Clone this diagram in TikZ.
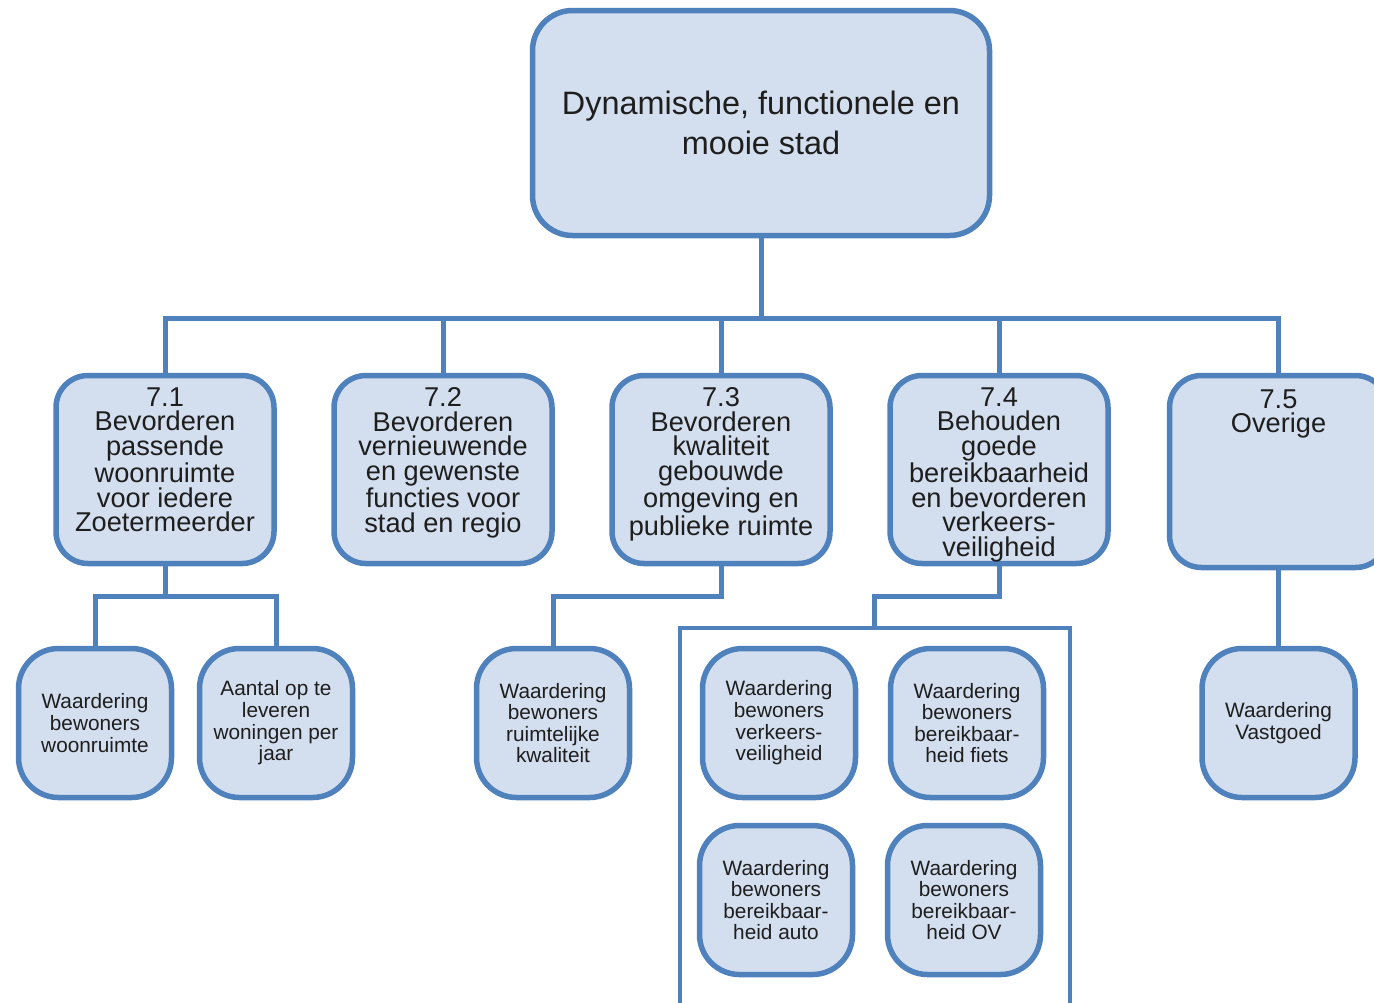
\documentclass[tikz,border=0pt]{standalone}
\usepackage{fontspec}
\setmainfont{Liberation Sans}
\usetikzlibrary{shapes,positioning}
\definecolor{rand}{RGB}{79,129,189}
\definecolor{vulling}{RGB}{211,223,238}
\definecolor{tekst}{RGB}{30,30,30}
\tikzset {
doel/.style={shape=rectangle,rounded corners=20pt,draw=rand,line width=2.75pt,fill=vulling,text=tekst,minimum width=228.5pt,minimum height=112.5pt,align=center,font=\fontsize{16.2}{20}\selectfont},
thema/.style={shape=rectangle,rounded corners=16pt,draw=rand,line width=2.75pt,fill=vulling,text=tekst,minimum width=109pt,minimum height=94pt,inner sep=0pt,font=\fontsize{13.6}{12.3}\selectfont,
  execute at begin node={\begin{minipage}[c][82pt][t]{106pt}\centering},
  execute at end node={\end{minipage}}},
indicator/.style={shape=rectangle,rounded corners=20pt,draw=rand,line width=2.75pt,fill=vulling,text=tekst,minimum width=76.5pt,minimum height=74.5pt,align=center,font=\fontsize{10.4}{10.8}\selectfont},
groep/.style={shape=rectangle,draw=rand,line width=2pt},
lijn/.style={draw=rand,line width=2.5pt}
}

\begin{document}
\begin{tikzpicture}
[x=0.5pt,y=-0.5pt,node distance=88.5pt]
\useasboundingbox (0,0) rectangle (1374,1002);
\node[doel] (stad) at (761,123) {Dynamische, functionele en\\mooie stad};
\node[thema] (woonruimte) at (165,469.5) {7.1\\Bevorderen\\passende\\woonruimte\\voor iedere\\Zoetermeerder};
\node[thema] (functies) at (443,469.5) {7.2\\Bevorderen\\vernieuwende\\en gewenste\\functies voor\\stad en regio};
\node[thema] (kwaliteit) at (721,469.5) {7.3\\Bevorderen\\kwaliteit\\gebouwde\\omgeving en\\publieke ruimte};
\node[thema] (bereikbaarheid) at (999,469.5) {7.4\\Behouden\\goede\\bereikbaarheid\\en bevorderen\\verkeers-\\veiligheid};
\node[thema,minimum height=96pt] (overige) at (1278.5,471.5) {7.5\\Overige};
\node[indicator] (waardering woonruimte) at (95,723) {Waardering\\bewoners\\woonruimte};
\node[indicator] (aantal woningen) at (276,723) {Aantal op te\\leveren\\woningen per\\jaar};
\node[indicator] (waardering ruimte) at (553,723) {Waardering\\bewoners\\ruimtelijke\\kwaliteit};
\node[groep,minimum width=195pt,minimum height=206pt] (indicatoren bereikbaarheid) at (874.5,834) {};
\node[indicator] (waardering veiligheid) at (779,723) {Waardering\\bewoners\\verkeers-\\veiligheid};
\node[indicator] (waardering fiets) at (967,723) {Waardering\\bewoners\\bereikbaar-\\heid fiets};
\node[indicator] (waardering auto) [below of=waardering veiligheid,xshift=-1.5pt] {Waardering\\bewoners\\bereikbaar-\\heid auto};
\node[indicator] (waardering ov) [below of=waardering fiets,xshift=-1.5pt] {Waardering\\bewoners\\bereikbaar-\\heid OV};
\node[indicator] (waardering vastgoed) at (1278.5,723) {Waardering\\Vastgoed};

\draw[lijn] (stad.south) -- ++(0,80) -| (woonruimte.north);
\draw[lijn] (stad.south) -- ++(0,80) -| (functies.north);
\draw[lijn] (stad.south) -- ++(0,80) -| (kwaliteit.north);
\draw[lijn] (stad.south) -- ++(0,80) -| (bereikbaarheid.north);
\draw[lijn] (stad.south) -- ++(0,80) -| (overige.north);

\draw[lijn] (woonruimte.south) -- ++(0,30) -| (waardering woonruimte.north);
\draw[lijn] (woonruimte.south) -- ++(0,30) -| (aantal woningen.north);
\draw[lijn] (kwaliteit.south) -- ++(0,30) -| (waardering ruimte.north);
\draw[lijn] (bereikbaarheid.south) -- ++(0,30) -| (indicatoren bereikbaarheid.north);
\draw[lijn] (overige.south) to (waardering vastgoed.north);
\end{tikzpicture}
\end{document}
